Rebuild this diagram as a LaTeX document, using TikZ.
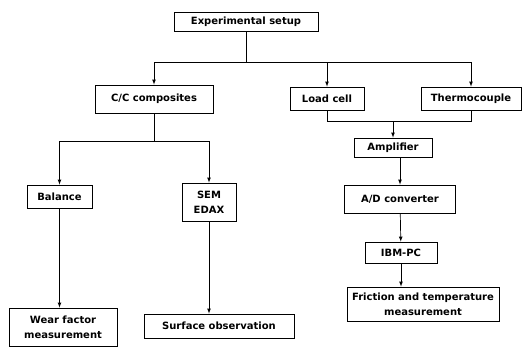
\documentclass[tikz,border=0pt]{standalone}
\usepackage{fontspec}
\setmainfont{DejaVu Sans}
\usetikzlibrary{positioning}
\usetikzlibrary{shapes,arrows}

\begin{document}
\begin{tikzpicture}[x=1pt,y=-1pt,>=latex,
  box/.style={draw,line width=0.8pt,inner sep=0pt,align=center,
    font=\fontsize{10}{15}\selectfont\bfseries},
  link/.style={line width=0.7pt}]
  \useasboundingbox (0,0) rectangle (524,350);
  % boxes
  \node[box,minimum width=144pt,minimum height=19pt] (setup) at (246,21.5) {Experimental setup};
  \node[box,minimum width=118pt,minimum height=28pt] (cc) at (154,99) {C/C composites};
  \node[box,minimum width=74pt,minimum height=23pt] (load) at (327,98.5) {Load cell};
  \node[box,minimum width=100pt,minimum height=23pt] (thermo) at (471,98.5) {Thermocouple};
  \node[box,minimum width=78pt,minimum height=19pt] (amp) at (393,147.5) {Amplifier};
  \node[box,minimum width=111pt,minimum height=28pt] (adc) at (400,199) {A/D converter};
  \node[box,minimum width=72pt,minimum height=21pt] (ibm) at (401,252.5) {IBM-PC};
  \node[box,minimum width=152pt,minimum height=34pt] (fric) at (423,304) {Friction and temperature\\measurement};
  \node[box,minimum width=65pt,minimum height=23pt] (bal) at (59.5,196.5) {Balance};
  \node[box,minimum width=54pt,minimum height=38pt] (sem) at (209,202) {SEM\\EDAX};
  \node[box,minimum width=108pt,minimum height=38pt] (wear) at (63,327) {Wear factor\\measurement};
  \node[box,minimum width=150pt,minimum height=24pt] (surf) at (219,326) {Surface observation};
  % junctions
  \coordinate (top) at (246,62);
  \coordinate (sensors) at (393,121);
  \coordinate (samples) at (154,141);
  % connectors
  \draw[link] (setup) -- (top);
  \draw[link,->] (top) -| (cc);
  \draw[link,->] (top) -| (load);
  \draw[link,->] (top) -| (thermo);
  \draw[link] (load) |- (sensors);
  \draw[link] (thermo) |- (sensors);
  \draw[link,->] (sensors) -- (amp);
  \draw[link,->] (amp.south -| adc) -- (adc);
  \draw[link,->] (adc) -- (ibm);
  \draw[link,->] (ibm) -- (ibm |- fric.north);
  \draw[link] (cc) -- (samples);
  \draw[link,->] (samples) -| (bal);
  \draw[link,->] (samples) -| (sem);
  \draw[link,->] (bal) -- (bal |- wear.north);
  \draw[link,->] (sem) -- (sem |- surf.north);
\end{tikzpicture}
\end{document}
